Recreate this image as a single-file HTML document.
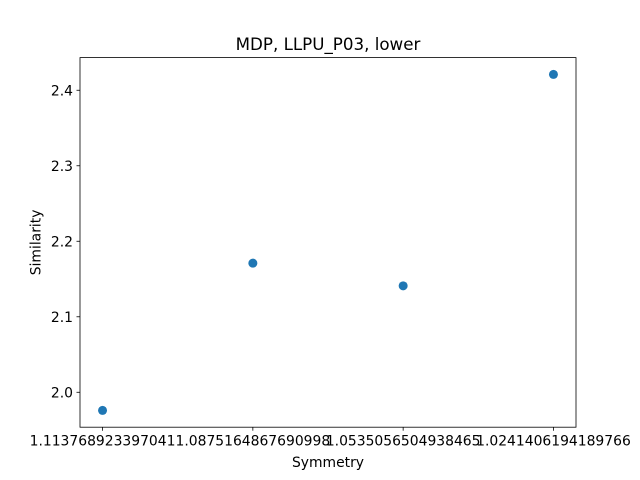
<!DOCTYPE html>
<html><head><meta charset="utf-8"><style>
body{margin:0;background:#fff;}
svg{display:block;font-family:"DejaVu Sans","Liberation Sans",sans-serif;}
</style></head><body>
<svg id="chart" width="640" height="480" viewBox="0 0 640 480">
<rect width="640" height="480" fill="#fff"/>
<text x="328" y="50" text-anchor="middle" font-size="16.7">MDP, LLPU_P03, lower</text>
<g id="ticks"></g>
<g id="points"></g>
<rect x="80" y="57.6" width="496" height="369.6" fill="none" stroke="#000" stroke-width="0.8"/>
<text x="328" y="467" text-anchor="middle" font-size="13.9">Symmetry</text>
<text transform="translate(40.5,242.4) rotate(-90)" text-anchor="middle" font-size="13.9">Similarity</text>
</svg>
<script>
const categories = ["1.113768923397041","1.0875164867690998","1.0535056504938465","1.0241406194189766"];
const values = [1.976, 2.171, 2.141, 2.421];
const yTicks = [2.0, 2.1, 2.2, 2.3, 2.4];
const yTickLabels = ["2.0","2.1","2.2","2.3","2.4"];

const L=80,R=576,T=57.6,B=427.2;
const n=categories.length;
const xmin=-0.05*(n-1), xmax=(n-1)*1.05;
const dmin=Math.min(...values), dmax=Math.max(...values), pad=(dmax-dmin)*0.05;
const ymin=dmin-pad, ymax=dmax+pad;
const xs=i=>L+(i-xmin)/(xmax-xmin)*(R-L);
const ys=v=>B-(v-ymin)/(ymax-ymin)*(B-T);
const NS="http://www.w3.org/2000/svg";
const tg=document.getElementById('ticks'), pg=document.getElementById('points');
function mk(tag,attrs,parent){const e=document.createElementNS(NS,tag);for(const k in attrs)e.setAttribute(k,attrs[k]);parent.appendChild(e);return e;}
categories.forEach((c,i)=>{
  const x=xs(i);
  const l=mk('line',{x1:x,x2:x,y1:B,y2:B+3.5,stroke:'#000','stroke-width':0.8},tg);
  
  
  const t=mk('text',{x:x,y:B+18.5,'text-anchor':'middle','font-size':13.9},tg);
  t.textContent=c;
  
  
});
yTicks.forEach((v,i)=>{
  const y=ys(v);
  const l=mk('line',{x1:L-3.5,x2:L,y1:y,y2:y,stroke:'#000','stroke-width':0.8},tg);
  
  
  const t=mk('text',{x:L-7,y:y+5,'text-anchor':'end','font-size':13.9},tg);
  t.textContent=yTickLabels[i];
  
  
});
values.forEach((v,i)=>{
  const c=mk('circle',{cx:xs(i),cy:ys(v),r:4.5,fill:'#1f77b4'},pg);
  
  
});
</script>
</body></html>
